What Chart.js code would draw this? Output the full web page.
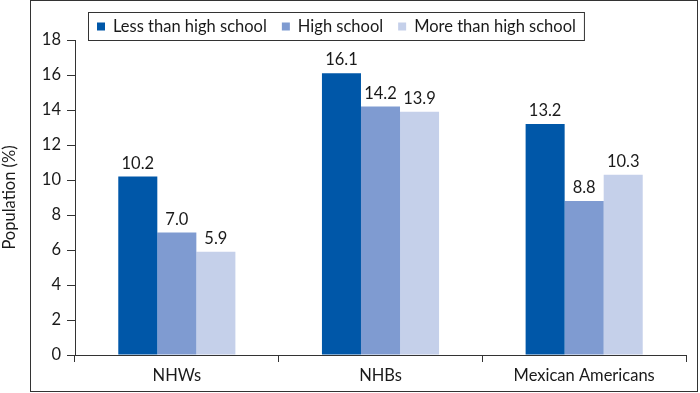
<!DOCTYPE html>
<html>
<head>
<meta charset="utf-8">
<script src="https://cdn.jsdelivr.net/npm/chart.js@4/dist/chart.umd.min.js"></script>
<style>
html,body{margin:0;padding:0;background:#fff;}
#wrap{position:relative;width:700px;height:393px;}
</style>
</head>
<body>
<div id="wrap"><canvas id="c" width="700" height="393"></canvas></div>
<script>
const categories = ["NHWs", "NHBs", "Mexican Americans"];
const seriesNames = ["Less than high school", "High school", "More than high school"];
const lessThanHS = [10.2, 16.1, 13.2];
const highSchool = [7.0, 14.2, 8.8];
const moreThanHS = [5.9, 13.9, 10.3];
const yTicks = [0, 2, 4, 6, 8, 10, 12, 14, 16, 18];
const colors = ["#0057a8", "#7f9bd1", "#c5d0ea"];

const FONT = "Lato, 'Open Sans', 'Liberation Sans', sans-serif";
const TXT = "#1a1a1a";
const FS = 16.5;

const framePlugin = {
  id: 'frame',
  afterDraw(chart) {
    const ctx = chart.ctx;
    ctx.save();
    ctx.strokeStyle = '#333';
    ctx.lineWidth = 1;
    ctx.strokeRect(30.5, 0.5, 667, 391);
    ctx.restore();
  }
};

const labelPlugin = {
  id: 'dataLabels',
  afterDatasetsDraw(chart) {
    const ctx = chart.ctx;
    ctx.save();
    ctx.font = FS + "px " + FONT;
    ctx.fillStyle = TXT;
    ctx.textAlign = 'center';
    ctx.textBaseline = 'alphabetic';
    chart.data.datasets.forEach((ds, di) => {
      chart.getDatasetMeta(di).data.forEach((bar, i) => {
        ctx.fillText(ds.data[i].toFixed(1), bar.x, bar.y - 8);
      });
    });
    ctx.restore();
  }
};

const legendPlugin = {
  id: 'customLegend',
  afterDraw(chart) {
    const ctx = chart.ctx;
    ctx.save();
    ctx.font = FS + "px " + FONT;
    ctx.textBaseline = 'middle';
    const boxL = 88, boxT = 12, boxH = 28;
    const cy = boxT + boxH / 2 + 0.5;
    let x = boxL + 9;
    const marker = 8, gapMT = 8, gapItems = 15;
    chart.data.datasets.forEach((ds, i) => {
      ctx.fillStyle = ds.backgroundColor;
      ctx.fillRect(x, cy - marker / 2, marker, marker);
      x += marker + gapMT;
      ctx.fillStyle = TXT;
      ctx.fillText(ds.label, x, cy);
      x += ctx.measureText(ds.label).width;
      if (i < chart.data.datasets.length - 1) x += gapItems;
    });
    x += 8;
    ctx.strokeStyle = '#333';
    ctx.lineWidth = 1;
    ctx.strokeRect(boxL + 0.5, boxT + 0.5, x - boxL, boxH);
    ctx.restore();
  }
};

new Chart(document.getElementById('c'), {
  type: 'bar',
  data: {
    labels: categories,
    datasets: [
      { label: seriesNames[0], data: lessThanHS, backgroundColor: colors[0] },
      { label: seriesNames[1], data: highSchool, backgroundColor: colors[1] },
      { label: seriesNames[2], data: moreThanHS, backgroundColor: colors[2] }
    ]
  },
  options: {
    responsive: false,
    animation: false,
    devicePixelRatio: 1,
    layout: { padding: { left: 0, right: 14, top: 40, bottom: 0 } },
    datasets: { bar: { categoryPercentage: 0.575, barPercentage: 1.0, borderWidth: 0 } },
    plugins: { legend: { display: false }, tooltip: { enabled: false } },
    scales: {
      x: {
        grid: { offset: true, drawOnChartArea: false, drawTicks: true, tickLength: 7, color: '#333' },
        border: { display: true, color: '#333' },
        ticks: { color: TXT, font: { family: FONT, size: FS }, padding: 4 },
        afterFit(scale) { scale.height = 38; }
      },
      y: {
        min: 0, max: 18,
        afterBuildTicks(scale) { scale.ticks = yTicks.map(v => ({ value: v })); },
        grid: { drawOnChartArea: false, drawTicks: true, tickLength: 8, color: '#333' },
        border: { display: true, color: '#333' },
        ticks: { color: TXT, font: { family: FONT, size: FS }, padding: 6 },
        title: { display: true, text: 'Population (%)', color: TXT, font: { family: FONT, size: FS }, padding: { top: 0, bottom: 0 } },
        afterFit(scale) { scale.width = 75; }
      }
    }
  },
  plugins: [framePlugin, labelPlugin, legendPlugin]
});
</script>
</body>
</html>
